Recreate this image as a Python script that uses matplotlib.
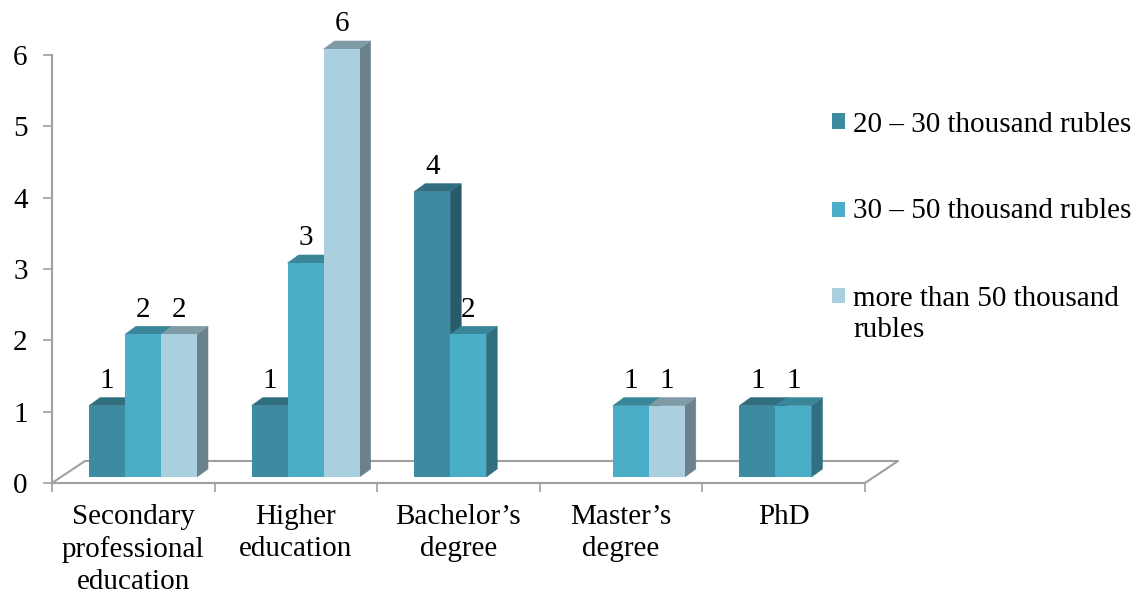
import matplotlib
matplotlib.use("Agg")
import matplotlib.pyplot as plt
from matplotlib.patches import Polygon, Rectangle

# ── data ──
categories = ["Secondary\nprofessional\neducation", "Higher\neducation",
              "Bachelor’s\ndegree", "Master’s\ndegree", "PhD"]
series = ["20 – 30 thousand rubles", "30 – 50 thousand rubles",
          "more than 50 thousand\nrubles"]
low = [1, 1, 4, 0, 1]
mid = [2, 3, 2, 1, 1]
high = [2, 6, 0, 1, 0]
values = [low, mid, high]

# front / top / side shades per series
front_c = ["#3d8ba1", "#4aaec8", "#aacfde"]
top_c = ["#2f6f80", "#3a8699", "#7f9ba6"]
side_c = ["#285b6a", "#306f7f", "#6b818b"]

plt.rcParams["font.family"] = ["Liberation Serif", "DejaVu Serif"]
FS = 21
LS = 1.29
W, H = 1144, 595

fig = plt.figure(figsize=(W / 100, H / 100), dpi=100)
# axes mapped so x 0..5 -> px 52..865, y 0..6 -> px 483..55
ax = fig.add_axes([52 / W, (H - 483) / H, (865 - 52) / W, (483 - 55) / H])
ax.set_xlim(0, 5)
ax.set_ylim(0, 6)

xs = 5 / (865 - 52)   # data units per pixel
ys = 6 / (483 - 55)
w = 36 * xs
off = 37 * xs
b0 = 6 * ys
dx, dy = 11 * xs, 8 * ys
gray = "#a0a0a0"

# floor outline
fdx, fdy = 33 * xs, 22 * ys
ax.plot([0, fdx, 5 + fdx, 5], [0, fdy, fdy, 0], color=gray, lw=1.5,
        clip_on=False, zorder=1)

for i in range(len(categories)):
    for j, vals in enumerate(values):
        v = vals[i]
        if v == 0:
            continue
        x0 = i + off + j * w
        z = 3 + j
        ax.add_patch(Polygon([(x0 + w, b0), (x0 + w + dx, b0 + dy),
                              (x0 + w + dx, b0 + v + dy), (x0 + w, b0 + v)],
                             closed=True, facecolor=side_c[j],
                             edgecolor=side_c[j], lw=0.4,
                             zorder=z, clip_on=False))
        ax.add_patch(Polygon([(x0, b0 + v), (x0 + w, b0 + v),
                              (x0 + w + dx, b0 + v + dy), (x0 + dx, b0 + v + dy)],
                             closed=True, facecolor=top_c[j],
                             edgecolor=top_c[j], lw=0.4,
                             zorder=z, clip_on=False))
        ax.bar(x0, v, width=w, bottom=b0, align="edge", color=front_c[j],
               zorder=z + 0.5, linewidth=0, clip_on=False)
        ax.annotate(str(v), (x0 + w / 2, b0 + v + dy), xytext=(0, 7),
                    textcoords="offset points", ha="center", va="baseline",
                    fontsize=FS, annotation_clip=False)

# axes styling
for s in ["top", "right"]:
    ax.spines[s].set_visible(False)
for s in ["left", "bottom"]:
    ax.spines[s].set_color(gray)
    ax.spines[s].set_linewidth(1.5)
ax.set_yticks(range(7))
ax.tick_params(axis="y", length=6.5, width=1.2, color=gray, pad=11,
               labelsize=FS)
ax.set_xticks(range(6))
ax.set_xticklabels([])
ax.set_xticks([i + 0.5 for i in range(5)], minor=True)
ax.set_xticklabels(categories, minor=True, fontsize=FS, linespacing=LS)
ax.tick_params(axis="x", which="major", length=6.5, width=1.2, color=gray)
ax.tick_params(axis="x", which="minor", length=0, pad=15)

# legend (baseline of last line of each label)
rows_y = [132, 218, 337]
box_y = [121, 209, 295]
for j, lab in enumerate(series):
    fig.add_artist(Rectangle((832 / W, 1 - (box_y[j] + 7.5) / H), 13 / W, 15 / H,
                             transform=fig.transFigure, facecolor=front_c[j],
                             lw=0))
    fig.text(853 / W, 1 - rows_y[j] / H, lab, fontsize=FS, va="baseline",
             ha="left", linespacing=1.27)

fig.savefig("out.png", dpi=100)
